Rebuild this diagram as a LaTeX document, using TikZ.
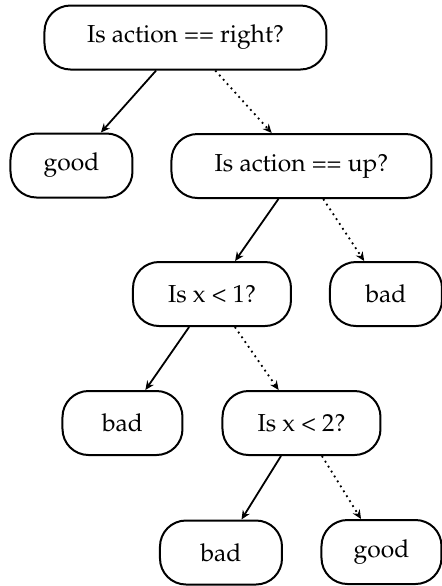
\documentclass[tikz,border=0pt]{standalone}
\usepackage[T1]{fontenc}
\usepackage{mathpazo}
\usepackage{tikz}
\usetikzlibrary{arrows.meta,positioning}

\begin{document}
\begin{tikzpicture}[x=0.5pt, y=-0.5pt,
    every node/.style={font=\fontsize{12.3}{14}\selectfont},
    test/.style={draw, line width=1pt, rounded corners=13pt, minimum height=32pt},
    leaf/.style={test},
    yes/.style={line width=0.9pt, -{Stealth[length=4.5pt, width=4pt]}},
    no/.style={yes, dotted}]
    \useasboundingbox (0,0) rectangle (442,586);

    % Root question
    \node[test, minimum width=141pt] (right) at (185.5,37.5) {Is action == right?};

    % Second level
    \node[leaf, minimum width=61pt] (good1) at (71.5,165.5) {good};
    \node[test, minimum width=130pt] (up) at (301.5,166) {Is action == up?};

    % Third level
    \node[test, minimum width=79pt] (xone) at (212,294) {Is x < 1?};
    \node[leaf, minimum width=56pt] (bad1) at (386,294) {bad};

    % Fourth level
    \node[leaf, minimum width=60pt] (bad2) at (122.5,423) {bad};
    \node[test, minimum width=79pt] (xtwo) at (301.5,423) {Is x < 2?};

    % Leaves at the bottom
    \node[leaf, minimum width=61pt] (bad3) at (221,552.5) {bad};
    \node[leaf, minimum width=60pt] (good2) at (381.5,552) {good};

    % Branches
    \draw[yes] (right) -- (good1);
    \draw[no] (right) -- (up);
    \draw[yes] (up) -- (xone);
    \draw[no] (up) -- (bad1);
    \draw[yes] (xone) -- (bad2);
    \draw[no] (xone) -- (xtwo);
    \draw[yes] (xtwo) -- (bad3);
    \draw[no] (xtwo) -- (good2);
\end{tikzpicture}
\end{document}
